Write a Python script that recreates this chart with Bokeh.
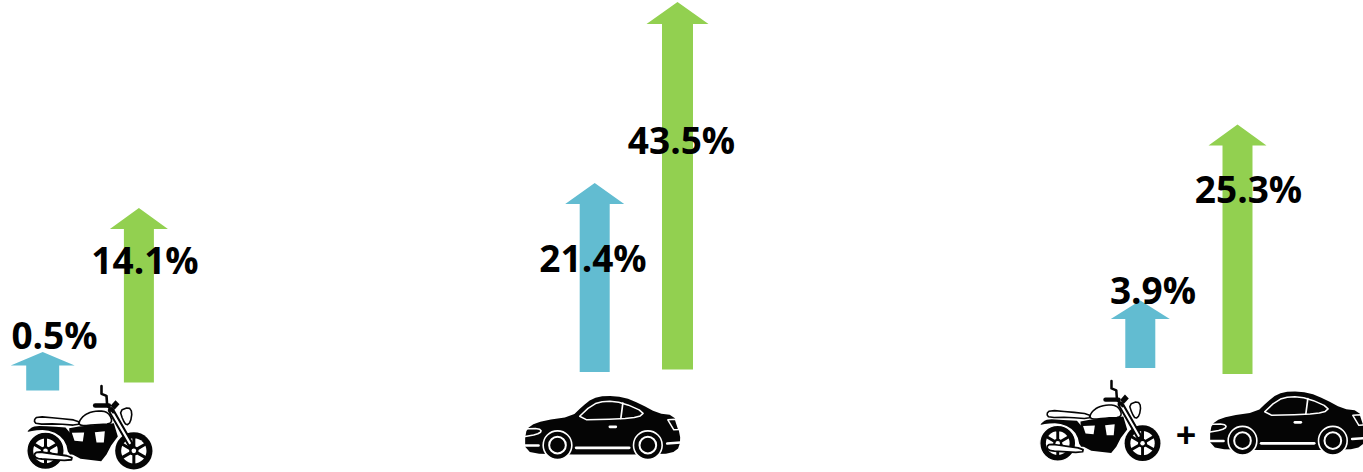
from bokeh.plotting import figure
from bokeh.models import Range1d
from bokeh.core.properties import value
from bokeh.embed import file_html
from bokeh.resources import INLINE
import math

# ---------- data ----------
blue_labels = ["0.5%", "21.4%", "3.9%"]
green_labels = ["14.1%", "43.5%", "25.3%"]
blue_x = [42.2, 594.2, 1139.8]
green_x = [138.4, 677, 1237]
blue_tip = [351.5, 182.5, 300]
blue_base = [390, 371.5, 367.5]
green_tip = [207.5, 1.5, 124]
green_base = [382, 369, 373.5]
blue_shaft = [16.5, 15, 15]
green_shaft = [15, 15.5, 15]
blue_head = [32, 29.5, 29.5]
green_head = [29, 31, 29]
blue_neck = [13.5, 21, 18.5]
green_neck = [21, 22, 21]
blue_label_x = [54, 592.5, 1152.5]
blue_label_y = [333.5, 256.5, 288.5]
green_label_x = [144.5, 681, 1248]
green_label_y = [258.5, 138.5, 187.5]

BLUE = "#62BCD1"
GREEN = "#92D050"
BLACK = "#050505"
FONT = "Open Sans"

p = figure(width=1363, height=472, output_backend="svg", toolbar_location=None,
           x_range=Range1d(0, 1363), y_range=Range1d(472, 0),
           min_border=0, outline_line_color=None, background_fill_color="white",
           border_fill_color="white", margin=(0, 0, 0, 0))
p.axis.visible = False
p.grid.visible = False


def arrow(cx, tip, base, shaft, head, neck):
    hy = tip + neck
    return ([cx, cx + head, cx + shaft, cx + shaft, cx - shaft, cx - shaft, cx - head],
            [tip, hy, hy, base, base, hy, hy])


for xs_, tips, bases, sh, hd, nk, col in [
    (blue_x, blue_tip, blue_base, blue_shaft, blue_head, blue_neck, BLUE),
    (green_x, green_tip, green_base, green_shaft, green_head, green_neck, GREEN),
]:
    shapes = [arrow(*a) for a in zip(xs_, tips, bases, sh, hd, nk)]
    p.patches([s[0] for s in shapes], [s[1] for s in shapes], fill_color=col, line_color=None)


def chaikin(pts, n=2, closed=True):
    for _ in range(n):
        out = []
        m = len(pts)
        rng = range(m) if closed else range(m - 1)
        if not closed:
            out.append(pts[0])
        for i in rng:
            a, b = pts[i], pts[(i + 1) % m]
            out.append((.75 * a[0] + .25 * b[0], .75 * a[1] + .25 * b[1]))
            out.append((.25 * a[0] + .75 * b[0], .25 * a[1] + .75 * b[1]))
        if not closed:
            out.append(pts[-1])
        pts = out
    return pts


class Icon:
    def __init__(self, ox, oy, s):
        self.ox, self.oy, self.s = ox, oy, s

    def X(self, u):
        return self.ox + self.s * u / 3

    def Y(self, v):
        return self.oy + self.s * v / 3

    def fill(self, pts, color=BLACK, smooth=0, line=None, lw=0):
        if smooth:
            pts = chaikin(pts, smooth)
        p.patch([self.X(a) for a, _ in pts], [self.Y(b) for _, b in pts], fill_color=color,
                line_color=line, line_width=lw * self.s if line else 0, line_join="round")

    def line(self, pts, color=BLACK, lw=2, smooth=0):
        if smooth:
            pts = chaikin(pts, smooth, closed=False)
        p.line([self.X(a) for a, _ in pts], [self.Y(b) for _, b in pts], line_color=color,
               line_width=lw * self.s, line_cap="round", line_join="round")

    def disc(self, u, v, r, color=BLACK, line=None, lw=0):
        p.circle([self.X(u)], [self.Y(v)], radius=self.s * r / 3, fill_color=color,
                 line_color=line, line_width=lw * self.s if line else 0)


def bike(ic):
    # rear fender: a wide black sweep from the tail to the engine
    ic.fill([(78, 305), (90, 293), (105, 286), (150, 288), (210, 292), (222, 372), (204, 372),
             (196, 336), (172, 310), (135, 298), (100, 300)], smooth=1)
    # wheels
    for cx, cy, r_out, r_in, gap in [(135, 361, 56, 37, 1.3), (400, 361, 56, 38, 0)]:
        if gap:
            ic.disc(cx, cy, r_out, BLACK, line="white", lw=gap)
        else:
            ic.disc(cx, cy, r_out)
        ic.disc(cx, cy, r_in, "white")
        for k in range(6):
            a = math.radians(30 + 60 * k)
            ic.line([(cx, cy), (cx + r_in * math.cos(a), cy + r_in * math.sin(a))], lw=3)
        ic.disc(cx, cy, 14)
        ic.disc(cx, cy, 7, "white")
    # engine block
    ic.fill([(206, 293), (235, 288), (340, 278), (352, 318), (332, 345), (318, 372), (302, 392),
             (240, 385), (216, 372), (208, 330)])
    # gaps / windows
    ic.fill([(214, 307), (251, 306), (247, 333), (222, 331)], "white")
    ic.fill([(283, 305), (313, 302), (310, 336), (288, 336)], "white")
    # tank
    ic.fill([(235, 272), (255, 250), (290, 240), (325, 245), (338, 280), (290, 282), (238, 287)],
            "white", smooth=2, line=BLACK, lw=1.6)
    # seat
    ic.fill([(100, 270), (110, 258), (170, 263), (235, 270), (234, 285), (170, 280), (108, 281)],
            "white", smooth=1, line=BLACK, lw=1.6)
    # exhaust
    ic.fill([(100, 373), (110, 363), (150, 369), (215, 378), (212, 391), (130, 386), (108, 384)],
            "white", smooth=1, line=BLACK, lw=1.8)
    # fork
    ic.line([(332, 240), (392, 345)], lw=6.5)
    ic.line([(334, 244), (388, 338)], "white", lw=2.2)
    # handlebar
    ic.line([(303, 167), (303, 190), (318, 196), (320, 225), (338, 245)], lw=2.6)
    ic.line([(284, 225), (325, 225)], lw=4.5)
    # headlight bracket
    ic.fill([(330, 226), (345, 209), (357, 221), (342, 238)])
    # headlight
    ic.fill([(358, 240), (385, 230), (395, 245), (390, 275), (378, 285), (367, 268)],
            "white", smooth=1, line=BLACK, lw=1.6)


def car(ic):
    body = [(44, 272), (44, 218), (58, 195), (100, 180), (184, 168), (215, 138), (245, 114), (285, 105),
            (340, 110), (390, 130), (440, 158), (490, 164), (503, 200), (511, 240), (500, 272), (455, 282),
            (100, 282)]
    ic.fill(body, smooth=1)
    # window frame
    frame = [(195, 179), (245, 132), (285, 121), (338, 127), (402, 155), (385, 170), (330, 175)]
    ic.fill(frame, BLACK, smooth=1, line="white", lw=1.5)
    ic.line([(337, 128), (331, 174)], "white", lw=1.7)
    # handle, sill
    ic.line([(298, 199), (316, 199)], "white", lw=2.6)
    ic.line([(197, 262), (356, 262)], "white", lw=2.8)
    # headlight swoosh
    ic.line([(44, 205), (85, 204), (94, 213), (78, 222), (44, 228)], "white", lw=1.6, smooth=1)
    ic.line([(44, 255), (84, 255)], "white", lw=2.6)
    # tail
    ic.fill([(472, 178), (495, 176), (505, 207), (490, 208)], BLACK, line="white", lw=1.5)
    ic.line([(470, 249), (510, 246)], "white", lw=2.6)
    # wheels
    for cx in (141, 412):
        ic.disc(cx, 254, 43, BLACK, line="white", lw=1.6)
        ic.disc(cx, 254, 25, BLACK, line="white", lw=2)


bike(Icon(0, 330, 1))
bike(Icon(1039 - 78 / 3 * .96, 379 - 162 / 3 * .96, .96))
car(Icon(510, 360, 1))
car(Icon(1195, 355.5, 1))

p.text(x=blue_label_x, y=blue_label_y, text=blue_labels, text_font=value(FONT), text_font_style="bold",
       text_font_size="37px", text_color="#000000", text_align="center", text_baseline="middle")
p.text(x=green_label_x, y=green_label_y, text=green_labels, text_font=value(FONT), text_font_style="bold",
       text_font_size="37px", text_color="#000000", text_align="center", text_baseline="middle")
p.text(x=[1185.5], y=[434], text=["+"], text_font=value(FONT), text_font_style="bold",
       text_font_size="36px", text_color="#000000", text_align="center", text_baseline="middle")

open("out.html", "w").write(file_html(p, INLINE))
